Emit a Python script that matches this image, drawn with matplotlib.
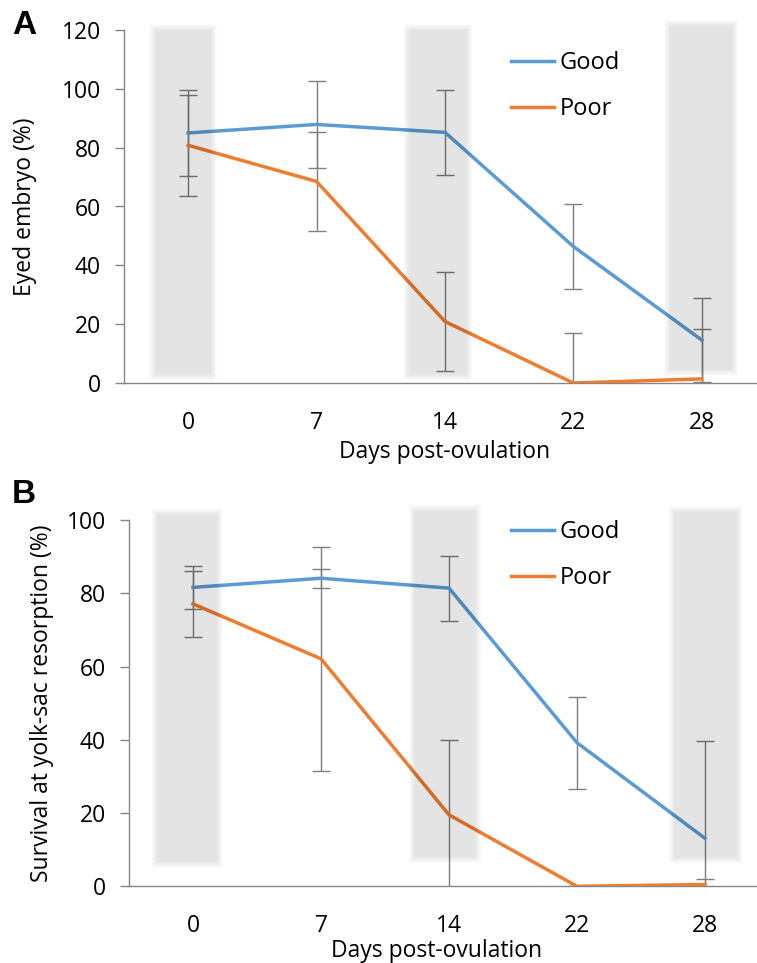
import numpy as np
import matplotlib
matplotlib.use("Agg")
import matplotlib.pyplot as plt
from matplotlib.patches import Rectangle

plt.rcParams["font.family"] = ["Open Sans", "DejaVu Sans"]

days = ["0", "7", "14", "22", "28"]

# panel A - eyed embryo (%)
eyed_good = [85.0, 87.9, 85.2, 46.4, 14.6]
eyed_good_err = [14.5, 14.7, 14.5, 14.4, 14.4]
eyed_poor = [80.8, 68.5, 20.9, 0.0, 1.4]
eyed_poor_err = [17.2, 16.9, 16.9, 17.0, 16.8]

# panel B - survival at yolk-sac resorption (%)
surv_good = [81.6, 84.1, 81.4, 39.2, 13.1]
surv_good_err = [5.9, 2.6, 8.9, 12.6, 26.6]
surv_poor = [77.1, 62.1, 19.5, 0.0, 0.5]
surv_poor_err = [9.1, 30.6, 20.4, 0.0, 1.5]

# shaded windows (category units)
bands_a = [(-0.28, 0.20, 2, 121), (1.70, 2.19, 2, 121), (3.73, 4.26, 3.4, 122.4)]
bands_b = [(-0.30, 0.21, 5.8, 102.3), (1.71, 2.23, 7.2, 103.3), (3.74, 4.27, 7, 103)]

BLUE = "#5b9bd5"
ORANGE = "#ed7d31"
GREY = "#7f7f7f"

fig = plt.figure(figsize=(7.57, 9.63), dpi=100)


def soft_band(ax, x0, x1, y0, y1, dy):
    # blurry grey block, several stacked faint layers
    n = 9
    dx = 0.006
    for k in range(n):
        e = (k - n // 2)
        ax.add_patch(Rectangle((x0 - e * dx, y0 - e * dy),
                               (x1 - x0) + 2 * e * dx, (y1 - y0) + 2 * e * dy,
                               facecolor="black", alpha=0.0117, lw=0,
                               zorder=5, clip_on=False))


def panel(rect, good, good_err, poor, poor_err, ymax, ylabel, bands, letter, lpos):
    ax = fig.add_axes(rect)
    x = np.arange(len(days))
    ax.errorbar(x, good, yerr=good_err, fmt="none", ecolor=GREY, elinewidth=1,
                capsize=6.5, capthick=1, zorder=2)
    ax.errorbar(x, poor, yerr=poor_err, fmt="none", ecolor=GREY, elinewidth=1,
                capsize=6.5, capthick=1, zorder=2)
    ax.plot(x, good, color=BLUE, lw=2.5, label="Good", zorder=3)
    ax.plot(x, poor, color=ORANGE, lw=2.5, label="Poor", zorder=3)

    dy = ymax * 0.0022
    for b in bands:
        soft_band(ax, b[0], b[1], b[2], b[3], dy)

    ax.set_xlim(-0.5, 4.5)
    ax.set_ylim(0, ymax)
    ax.set_xticks(x)
    ax.set_xticklabels(days)
    ax.set_yticks(np.arange(0, ymax + 1, 20))
    ax.tick_params(axis="x", length=0, pad=20, labelsize=16.5)
    ax.tick_params(axis="y", length=6.5, width=1, color="#868686", pad=10, labelsize=16.5)
    for s in ["top", "right"]:
        ax.spines[s].set_visible(False)
    for s in ["left", "bottom"]:
        ax.spines[s].set_color("#868686")
        ax.spines[s].set_linewidth(1)

    ax.set_ylabel(ylabel, fontsize=16.5)
    ax.set_xlabel("Days post-ovulation", fontsize=16.5)

    ax.legend(loc="upper left", bbox_to_anchor=lpos, frameon=False,
              fontsize=17, handlelength=1.8, handletextpad=0.25,
              labelspacing=0.95, borderpad=0, borderaxespad=0)
    fig.text(letter[1], letter[2], letter[0], fontsize=24, fontweight="bold",
             family="Liberation Sans", ha="center", va="center")
    return ax


axA = panel([124 / 757, 1 - 383 / 963, 642 / 757, 353 / 963],
            eyed_good, eyed_good_err, eyed_poor, eyed_poor_err, 120,
            "Eyed embryo (%)", bands_a, ("A", 24 / 757, 1 - 26 / 963), (0.603, 0.941))
axA.xaxis.set_label_coords(0.50, -0.161)
axA.yaxis.set_label_coords(-0.135, 0.5)

axB = panel([129 / 757, 1 - 886.3 / 963, 640 / 757, 366.3 / 963],
            surv_good, surv_good_err, surv_poor, surv_poor_err, 100,
            "Survival at yolk-sac resorption (%)", bands_b, ("B", 24 / 757, 1 - 494 / 963),
            (0.597, 1.0))
axB.xaxis.set_label_coords(0.48, -0.143)
axB.yaxis.set_label_coords(-0.117, 0.5)

fig.savefig("out.png", dpi=100)
